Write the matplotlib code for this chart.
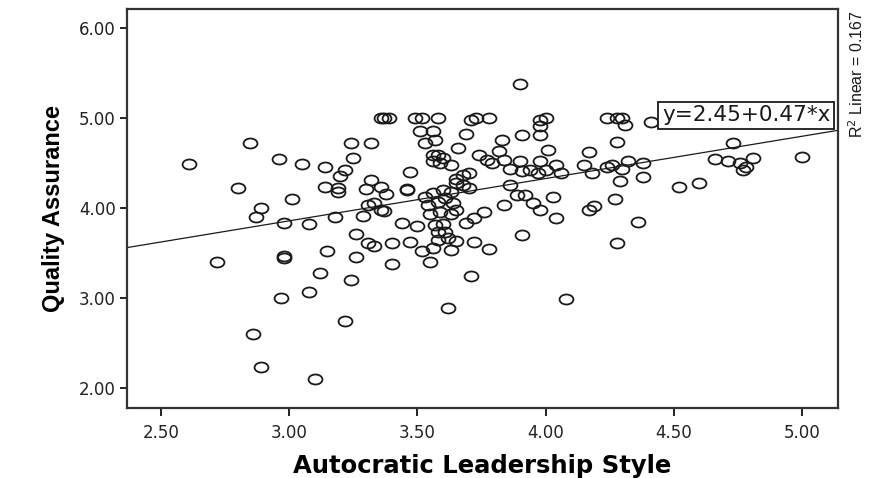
##############################
###########PACKAGES###########
##############################
import numpy as np
import matplotlib
matplotlib.use('Agg')
import matplotlib.pyplot as plt
from matplotlib.path import Path
from matplotlib.transforms import Affine2D

#########################
#DATA#
#########################

autocratic = [2.61, 2.85, 2.96, 3.05, 3.14, 3.20, 3.22, 3.24, 3.32, 3.25,
              2.80, 3.01, 2.89, 2.87, 3.14, 3.19, 3.19, 3.32, 3.30, 3.36,
              3.38, 3.47, 3.46, 3.46, 3.36, 3.37, 3.39, 3.49, 3.52, 3.58,
              3.51, 3.56, 3.53, 3.57, 3.66, 3.69, 3.71, 3.73, 3.78, 3.56,
              3.58, 3.60, 3.56, 3.59, 3.63, 3.74, 3.77, 3.79, 3.83, 3.82,
              3.84, 3.90, 4.00, 3.98, 3.98, 3.98, 3.91, 4.01, 4.17, 4.28,
              4.24, 4.28, 4.30, 4.31, 4.41, 4.73, 4.66, 4.71, 4.76, 4.78,
              4.77, 4.81, 5.00, 4.38, 4.32, 4.30, 4.38, 4.52, 4.60, 4.29,
              4.24, 4.26, 4.15, 4.18, 4.27, 4.36, 4.17, 4.19, 4.04, 3.98,
              3.95, 4.03, 3.89, 3.92, 3.86, 3.84, 3.76, 3.72, 3.69, 3.65,
              3.68, 3.70, 3.65, 3.68, 3.70, 3.86, 3.91, 3.94, 3.97, 3.98,
              4.04, 4.06, 4.00, 3.90, 3.91, 3.72, 3.78, 4.28, 3.71, 4.08,
              2.72, 2.98, 2.98, 2.98, 3.08, 3.18, 3.29, 3.31, 3.33, 3.36,
              3.37, 3.26, 3.31, 3.33, 3.40, 3.15, 3.26, 3.40, 3.12, 3.24,
              2.97, 3.08, 3.22, 2.86, 2.89, 3.10, 3.62, 3.44, 3.50, 3.47,
              3.52, 3.55, 3.56, 3.63, 3.65, 3.53, 3.56, 3.60, 3.63, 3.54,
              3.58, 3.61, 3.64, 3.55, 3.59, 3.63, 3.65, 3.57, 3.60, 3.58,
              3.61, 3.58, 3.62]

quality = [4.49, 4.73, 4.55, 4.49, 4.46, 4.36, 4.43, 4.73, 4.73, 4.56,
           4.22, 4.10, 4.00, 3.90, 4.24, 4.23, 4.18, 4.31, 4.21, 4.24,
           4.16, 4.40, 4.21, 4.20, 5.00, 5.00, 5.00, 5.00, 5.00, 5.00,
           4.86, 4.86, 4.73, 4.76, 4.67, 4.83, 4.98, 5.00, 5.00, 4.59,
           4.59, 4.56, 4.52, 4.50, 4.48, 4.59, 4.54, 4.50, 4.76, 4.64,
           4.54, 5.38, 5.00, 4.98, 4.91, 4.81, 4.81, 4.65, 4.63, 4.74,
           5.00, 5.00, 5.00, 4.92, 4.96, 4.73, 4.55, 4.53, 4.50, 4.46,
           4.43, 4.56, 4.57, 4.50, 4.52, 4.44, 4.35, 4.24, 4.28, 4.30,
           4.46, 4.48, 4.48, 4.39, 4.10, 3.85, 3.98, 4.02, 3.89, 3.98,
           4.06, 4.13, 4.15, 4.15, 4.26, 4.04, 3.96, 3.89, 3.84, 4.28,
           4.26, 4.22, 4.33, 4.37, 4.39, 4.44, 4.41, 4.43, 4.39, 4.52,
           4.48, 4.39, 4.43, 4.52, 3.70, 3.63, 3.55, 3.61, 3.25, 2.99,
           3.40, 3.47, 3.45, 3.84, 3.83, 3.90, 3.91, 4.04, 4.06, 3.98,
           3.97, 3.71, 3.61, 3.58, 3.61, 3.52, 3.46, 3.38, 3.28, 3.20,
           3.00, 3.07, 2.75, 2.60, 2.24, 2.10, 2.89, 3.84, 3.80, 3.63,
           3.52, 3.40, 3.56, 3.54, 3.64, 4.13, 4.17, 4.20, 4.18, 4.04,
           4.07, 4.11, 4.06, 3.94, 3.96, 3.94, 3.98, 3.81, 3.83, 3.74,
           3.74, 3.65, 3.67]

intercept = 2.45
slope = 0.47
r2 = 0.167

x_ticks = [2.50, 3.00, 3.50, 4.00, 4.50, 5.00]
y_ticks = [2.00, 3.00, 4.00, 5.00, 6.00]

###########
#THE PLOT#
###########

fig = plt.figure(figsize=(8.69, 4.78), dpi=100)
ax = fig.add_axes([0.1458, 0.1458, 0.8185, 0.8347])

#SPSS circles look squashed in the picture, so an ellipse marker
ellipse = Affine2D().scale(1.0, 0.72).transform_path(Path.unit_circle())
ax.plot(autocratic, quality, linestyle='none', marker=ellipse, markersize=10,
        markerfacecolor='none', markeredgecolor='#1a1a1a', markeredgewidth=1.3)

#fit line across the whole frame
xlim = (2.3675, 5.14)
xx = np.array(xlim)
ax.plot(xx, intercept + slope*xx, color='#1a1a1a', linewidth=0.9)

ax.set_xlim(xlim)
ax.set_ylim(1.778, 6.21)
ax.set_xticks(x_ticks)
ax.set_yticks(y_ticks)
ax.set_xticklabels(['%.2f' % v for v in x_ticks])
ax.set_yticklabels(['%.2f' % v for v in y_ticks])
ax.tick_params(axis='x', direction='out', length=6, width=1.4, labelsize=12,
               colors='#222222', pad=5)
ax.tick_params(axis='y', direction='out', length=5, width=1.4, labelsize=12,
               colors='#222222', pad=3)
for s in ax.spines.values():
    s.set_linewidth(1.6)
    s.set_color('#333333')

ax.set_xlabel('Autocratic Leadership Style', fontsize=17.5, fontweight='bold',
              labelpad=9)
ax.set_ylabel('Quality Assurance', fontsize=17, fontweight='bold',
              family='Liberation Sans', labelpad=10)

#equation box
ax.text(4.783, 5.031, 'y=%.2f+%.2f*x' % (intercept, slope), fontsize=15.5,
        ha='center', va='center', color='#1a1a1a',
        bbox=dict(boxstyle='square,pad=0.18', fc='white', ec='#1a1a1a', lw=1.3))

fig.text(0.986, 0.979, r'R$^2$ Linear = %.3f' % r2, rotation=90, ha='center',
         va='top', fontsize=11.5, family='Liberation Sans', color='#1a1a1a')

plt.savefig('out.png', dpi=100)
